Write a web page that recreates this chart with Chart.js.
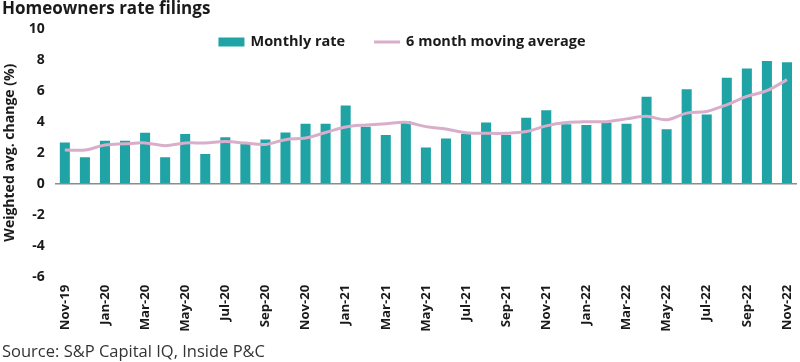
<!DOCTYPE html>
<html>
<head>
<meta charset="utf-8">
<script src="https://cdn.jsdelivr.net/npm/chart.js@4"></script>
<style>
html,body{margin:0;padding:0;background:#fff;}
#wrap{width:800px;height:362px;position:relative;}
</style>
</head>
<body>
<div id="wrap"><canvas id="c" width="800" height="362"></canvas></div>
<script>
const categories = ["Nov-19","Dec-19","Jan-20","Feb-20","Mar-20","Apr-20","May-20","Jun-20","Jul-20","Aug-20","Sep-20","Oct-20",
"Nov-20","Dec-20","Jan-21","Feb-21","Mar-21","Apr-21","May-21","Jun-21","Jul-21","Aug-21","Sep-21","Oct-21",
"Nov-21","Dec-21","Jan-22","Feb-22","Mar-22","Apr-22","May-22","Jun-22","Jul-22","Aug-22","Sep-22","Oct-22","Nov-22"];
const monthlyRate = [2.65,1.7,2.77,2.77,3.29,1.7,3.2,1.91,2.99,2.6,2.85,3.3,3.87,3.87,5.04,3.67,3.14,4.03,2.34,2.92,3.2,3.94,3.14,4.25,
4.74,3.83,3.79,3.94,3.86,5.61,3.51,6.1,4.46,6.84,7.43,7.92,7.84];
const movingAverage = [2.17,2.17,2.49,2.57,2.63,2.45,2.62,2.63,2.72,2.62,2.53,2.84,2.95,3.3,3.66,3.79,3.87,3.96,3.68,3.53,3.29,3.25,3.25,3.36,
3.73,3.94,4.0,4.0,4.18,4.35,4.12,4.55,4.66,5.09,5.63,6.0,6.71];
const yTicks = {min:-6, max:10, step:2};

const teal = '#1fa3a5';
const pink = '#d9aecb';
const txt = '#1a1a1a';

// legend drawn inside the plot area, as in the reference
const overlayLegend = {
  id:'overlayLegend',
  afterDraw(chart){
    const ctx = chart.ctx;
    const ds = chart.data.datasets;
    const items = [
      {text: ds[1].label, color: ds[1].backgroundColor, kind:'rect'},
      {text: ds[0].label, color: ds[0].borderColor, kind:'line'}
    ];
    ctx.save();
    ctx.font = 'bold 14.5px "Open Sans"';
    const box = 26, gap = 6, between = 29;
    let total = 0;
    items.forEach((it,i)=>{ it.w = ctx.measureText(it.text).width; total += box + gap + it.w + (i ? between : 0); });
    let x = chart.width/2 - total/2 + 2;
    const y = 42;
    items.forEach((it,i)=>{
      if (i) x += between;
      if (it.kind === 'rect') { ctx.fillStyle = it.color; ctx.fillRect(x, y-4.5, box, 9); }
      else { ctx.strokeStyle = it.color; ctx.lineWidth = 3; ctx.beginPath(); ctx.moveTo(x, y); ctx.lineTo(x+box, y); ctx.stroke(); }
      x += box + gap;
      ctx.fillStyle = txt; ctx.textBaseline = 'middle'; ctx.textAlign = 'left';
      ctx.fillText(it.text, x, y);
      x += it.w;
    });
    ctx.restore();
  }
};

new Chart(document.getElementById('c'), {
  type:'bar',
  data:{
    labels:categories,
    datasets:[
      {type:'line', label:'6 month moving average', data:movingAverage, borderColor:pink, backgroundColor:pink,
       borderWidth:3, pointRadius:0, tension:0.35, order:0},
      {type:'bar', label:'Monthly rate', data:monthlyRate, backgroundColor:teal, borderWidth:0,
       barPercentage:0.5, categoryPercentage:1.0, order:1}
    ]
  },
  options:{
    responsive:false,
    animation:false,
    layout:{padding:{left:2,right:3,top:0,bottom:0}},
    plugins:{
      title:{display:true, text:'Homeowners rate filings', align:'start', color:txt,
        font:{family:'Open Sans', size:17, weight:'bold', lineHeight:1.1}, padding:{top:0,bottom:10}},
      subtitle:{display:true, text:'Source: S&P Capital IQ, Inside P&C', position:'bottom', align:'start', color:'#333',
        font:{family:'Open Sans', size:16.5, weight:'normal', lineHeight:1.1}, padding:{top:3,bottom:1}},
      legend:{display:false},
      tooltip:{enabled:false}
    },
    scales:{
      x:{
        grid:{display:false, drawTicks:false},
        border:{display:false},
        afterFit(scale){ scale.paddingRight = 0; scale.paddingLeft = 0; },
        ticks:{color:txt, font:{family:'Open Sans', size:13.2, weight:'bold'}, autoSkip:false, maxRotation:90, minRotation:90, padding:8,
          callback(v, i){ return i % 2 === 0 ? categories[i] : ''; }}
      },
      y:{
        min:yTicks.min, max:yTicks.max,
        ticks:{stepSize:yTicks.step, color:txt, font:{family:'Open Sans', size:14, weight:'bold'}, padding:10},
        grid:{drawTicks:false, lineWidth:1.5, color(ctx){ return ctx.tick && ctx.tick.value === 0 ? '#8c8c8c' : 'rgba(0,0,0,0)'; }},
        border:{display:false},
        title:{display:true, text:'Weighted avg. change (%)', color:txt, font:{family:'Open Sans', size:14, weight:'bold'}, padding:{top:0,bottom:0}}
      }
    }
  },
  plugins:[overlayLegend]
});
</script>
</body>
</html>
